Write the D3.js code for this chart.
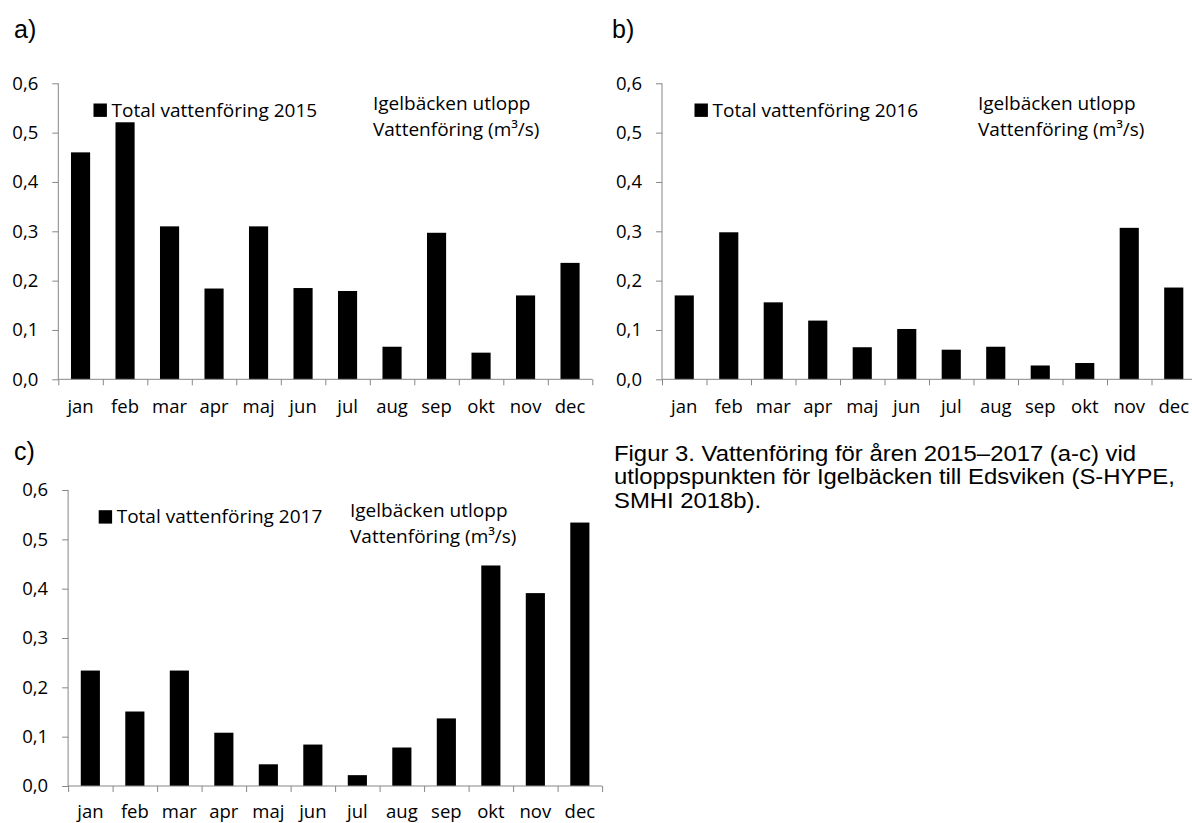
<!DOCTYPE html>
<html>
<head>
<meta charset="utf-8">
<script src="https://cdn.jsdelivr.net/npm/d3@7"></script>
<style>
  html, body { margin: 0; padding: 0; background: #fff; }
  svg { display: block; }
  .tick-lbl { font-family: "Open Sans", sans-serif; font-size: 18.5px; fill: #000; }
  .note { font-family: "Open Sans", sans-serif; font-size: 19px; fill: #000; }
  .panel-lbl { font-family: "Liberation Sans", Arial, sans-serif; font-size: 25px; fill: #000; }
  .caption { font-family: "Liberation Sans", Arial, sans-serif; font-size: 22px; fill: #000; }
</style>
</head>
<body>
<svg id="chart" width="1192" height="823"></svg>
<script>
// Monthly discharge at the Igelbäcken outlet (m³/s), S-HYPE
const months = ["jan", "feb", "mar", "apr", "maj", "jun", "jul", "aug", "sep", "okt", "nov", "dec"];
const flow2015 = [0.460, 0.521, 0.310, 0.184, 0.310, 0.185, 0.179, 0.066, 0.297, 0.054, 0.170, 0.236];
const flow2016 = [0.170, 0.298, 0.156, 0.119, 0.065, 0.102, 0.060, 0.066, 0.028, 0.033, 0.307, 0.186];
const flow2017 = [0.234, 0.151, 0.234, 0.108, 0.044, 0.084, 0.022, 0.078, 0.137, 0.447, 0.391, 0.534];
const yTicks = [0, 0.1, 0.2, 0.3, 0.4, 0.5, 0.6];
const panelLabels = ["a)", "b)", "c)"];
const years = ["2015", "2016", "2017"];
const noteLines = ["Igelbäcken utlopp", "Vattenföring (m³/s)"];
const captionLines = [
  "Figur 3. Vattenföring för åren 2015–2017 (a-c) vid",
  "utloppspunkten för Igelbäcken till Edsviken (S-HYPE,",
  "SMHI 2018b)."
];

const svg = d3.select("#chart");
const axisColor = "#868686";

// Layout of the three panels (plot-area origin and size)
const layout = [
  { x: 58.3,  top: 83.3, legendX: 93.5,  noteX: 373, labelX: 14,  labelY: 38, xLblY: 34 },
  { x: 662,   top: 83.3, legendX: 694.5, noteX: 978, labelX: 612, labelY: 38, xLblY: 34 },
  { x: 68.1,  top: 490,  legendX: 98.7,  noteX: 350, labelX: 14,  labelY: 460, xLblY: 31.5 }
];
const plotW = 534, plotH = 296;
const series = [flow2015, flow2016, flow2017];

layout.forEach((L, i) => {
  const values = series[i];
  const g = svg.append("g").attr("transform", `translate(${L.x},${L.top})`);

  const x = d3.scaleBand().domain(months).range([0, plotW]);
  const xEdge = d3.scaleLinear().domain([0, months.length]).range([0, plotW]);
  const y = d3.scaleLinear().domain([0, 0.6]).range([plotH, 0]);
  const barW = x.bandwidth() * 0.43;

  // bars
  g.selectAll("rect.bar").data(values).join("rect")
    .attr("class", "bar")
    .attr("x", (d, j) => x(months[j]) + (x.bandwidth() - barW) / 2)
    .attr("width", barW)
    .attr("y", d => y(d))
    .attr("height", d => plotH - y(d))
    .attr("fill", "#000");

  // y axis
  const yAxis = g.append("g")
    .call(d3.axisLeft(y).tickValues(yTicks).tickSize(6).tickPadding(14)
      .tickFormat(d => d3.format(".1f")(d).replace(".", ",")));
  yAxis.select(".domain").attr("stroke", axisColor).attr("d", `M0,${plotH}V0`);
  yAxis.selectAll(".tick line").attr("stroke", axisColor);
  yAxis.selectAll(".tick text").attr("class", "tick-lbl").attr("font-family", null).attr("font-size", null);

  // x axis: tick marks at category boundaries
  const xTicks = g.append("g").attr("transform", `translate(0,${plotH})`)
    .call(d3.axisBottom(xEdge).tickValues(d3.range(0, months.length + 1)).tickSize(6).tickFormat(""));
  xTicks.select(".domain").attr("stroke", axisColor).attr("d", `M0,0H${plotW}`);
  xTicks.selectAll(".tick line").attr("stroke", axisColor);

  // x axis: month labels centred in each category
  const xLabels = g.append("g").attr("transform", `translate(0,${plotH})`)
    .call(d3.axisBottom(x).tickSize(0).tickPadding(0));
  xLabels.select(".domain").remove();
  xLabels.selectAll(".tick text").attr("class", "tick-lbl")
    .attr("font-family", null).attr("font-size", null)
    .attr("y", L.xLblY).attr("dy", null);

  // legend
  const leg = g.append("g").attr("transform", `translate(${L.legendX - L.x},0)`);
  leg.append("rect").attr("x", 0).attr("y", 20.2).attr("width", 13.4).attr("height", 13.4).attr("fill", "#000");
  leg.append("text").attr("class", "note").attr("x", 18).attr("y", 33.4)
    .text("Total vattenföring " + years[i]);

  // station note
  const note = g.append("text").attr("class", "note");
  note.append("tspan").attr("x", L.noteX - L.x).attr("y", 26.7).text(noteLines[0]);
  note.append("tspan").attr("x", L.noteX - L.x).attr("y", 52.7).text(noteLines[1]);

  // panel label
  svg.append("text").attr("class", "panel-lbl").attr("x", L.labelX).attr("y", L.labelY).text(panelLabels[i]);
});

// figure caption
const cap = svg.append("text").attr("class", "caption")
  .attr("transform", "translate(614,0) scale(1.085,1)");
captionLines.forEach((t, k) => {
  cap.append("tspan").attr("x", 0).attr("y", 461 + k * 23.5).text(t);
});
</script>
</body>
</html>
